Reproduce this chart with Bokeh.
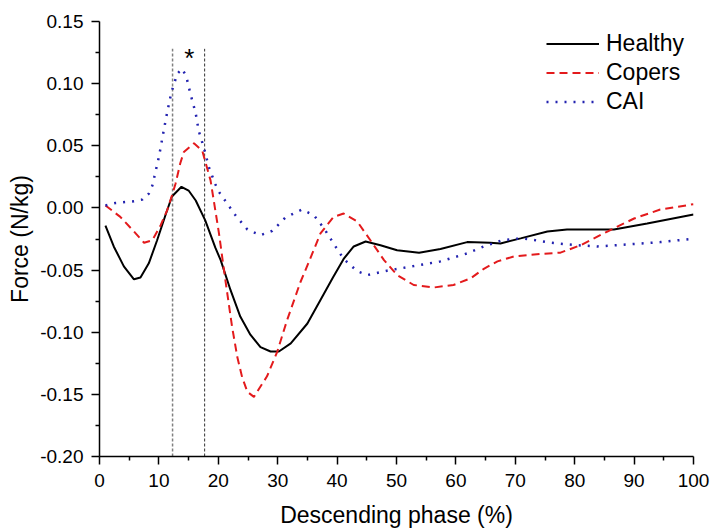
from bokeh.plotting import figure
from bokeh.models import Range1d, FixedTicker, Label
from bokeh.embed import file_html
from bokeh.resources import INLINE

# ---- data ----
healthy_x = [1.0, 2.4, 4.1, 5.8, 6.9, 8.3, 9.7, 11.1, 12.2, 13.8, 15.0, 16.2, 17.8, 19.5, 20.4, 22.05,
             23.7, 25.4, 27.1, 28.8, 30.2, 32.2, 35.0, 37.2, 39.3, 41.1, 42.8, 44.8, 47.3, 50.1, 53.8,
             57.4, 61.9, 65.8, 67.5, 70.9, 75.4, 78.7, 86.6, 92.2, 100.0]
healthy_y = [-0.0142, -0.031, -0.047, -0.0574, -0.056, -0.0446, -0.026, -0.0059, 0.0092, 0.017, 0.014,
             0.006, -0.010, -0.032, -0.042, -0.066, -0.0874, -0.102, -0.112, -0.1155, -0.1155, -0.109,
             -0.093, -0.074, -0.056, -0.041, -0.031, -0.027, -0.030, -0.034, -0.036, -0.033, -0.0275,
             -0.028, -0.0286, -0.0245, -0.019, -0.0174, -0.0174, -0.0125, -0.0053]

copers_x = [1.0, 3.5, 5.8, 7.5, 8.9, 10.3, 11.4, 12.2, 12.8, 13.6, 14.2, 15.9, 17.3, 18.7, 20.1, 21.1,
            22.3, 23.2, 24.0, 24.9, 26.0, 28.2, 29.9, 31.6, 33.8, 35.2, 37.2, 39.4, 41.1, 43.4, 45.6,
            47.9, 50.1, 52.9, 56.3, 59.6, 62.5, 64.7, 67.0, 69.8, 74.2, 77.6, 81.0, 85.5, 90.0, 94.4,
            100.0]
copers_y = [0.002, -0.0072, -0.019, -0.028, -0.026, -0.0139, -0.0018, 0.010, 0.0195, 0.036, 0.045, 0.052,
            0.046, 0.022, -0.020, -0.055, -0.095, -0.120, -0.136, -0.148, -0.152, -0.1355, -0.116,
            -0.090, -0.060, -0.044, -0.0205, -0.0072, -0.0045, -0.011, -0.026, -0.042, -0.054, -0.062,
            -0.064, -0.062, -0.0566, -0.049, -0.043, -0.039, -0.037, -0.036, -0.030, -0.019, -0.0085,
            -0.0013, 0.003]

cai_x = [1.0, 2.7, 4.4, 5.8, 7.2, 8.3, 8.9, 10.0, 10.8, 11.4, 12.1, 13.1, 13.9, 14.6, 15.3, 16.2, 16.7,
         17.6, 18.4, 19.5, 20.1, 22.9, 24.9, 27.1, 29.1, 31.3, 34.1, 36.1, 37.8, 39.4, 41.1, 43.4, 45.1,
         48.4, 52.9, 57.4, 61.9, 64.7, 67.8, 70.9, 72.6, 75.9, 80.4, 83.8, 90.0, 94.4, 99.5]
cai_y = [0.002, 0.004, 0.0048, 0.0054, 0.0067, 0.0115, 0.018, 0.041, 0.062, 0.077, 0.093, 0.108, 0.112,
         0.106, 0.092, 0.076, 0.062, 0.048, 0.033, 0.019, 0.013, -0.006, -0.0174, -0.022, -0.0184,
         -0.0077, -0.0013, -0.0059, -0.0165, -0.0286, -0.041, -0.051, -0.054, -0.0505, -0.0468, -0.043,
         -0.0366, -0.031, -0.026, -0.0245, -0.0254, -0.028, -0.030, -0.031, -0.029, -0.0275, -0.025]

# significance window (vertical dashed lines) and marker
window_x = [12.3, 17.7]
window_bottom = -0.20
window_top = 0.128
star_x = 15.1
star_y = 0.121
star_text = "*"

x_ticks = [0, 10, 20, 30, 40, 50, 60, 70, 80, 90, 100]
y_ticks = [-0.20, -0.15, -0.10, -0.05, 0.00, 0.05, 0.10, 0.15]

FONT = "Liberation Sans"

p = figure(width=710, height=530, x_range=Range1d(0, 100), y_range=Range1d(-0.2, 0.15),
           output_backend="svg", toolbar_location=None,
           min_border_left=99, min_border_right=17, min_border_top=21, min_border_bottom=73)
p.outline_line_color = None
p.xgrid.visible = False
p.ygrid.visible = False
p.background_fill_color = "white"

# vertical lines
p.segment(x0=[window_x[0]], y0=[window_bottom], x1=[window_x[0]], y1=[window_top],
          line_color="#808080", line_width=1.5, line_dash="3 2")
p.segment(x0=[window_x[1]], y0=[window_bottom], x1=[window_x[1]], y1=[window_top],
          line_color="#333333", line_width=1, line_dash="3 2")
p.add_layout(Label(x=star_x, y=star_y, text=star_text, text_align="center", text_baseline="alphabetic",
                   text_font=FONT, text_font_size="26px", text_color="black"))

p.line(healthy_x, healthy_y, line_color="black", line_width=2, legend_label="Healthy")
p.line(copers_x, copers_y, line_color="#e31a1c", line_width=2, line_dash="8 5", legend_label="Copers")
p.line(cai_x, cai_y, line_color="#2222b0", line_width=2.5, line_dash="2 7", legend_label="CAI")

for ax in (p.xaxis[0], p.yaxis[0]):
    ax.axis_line_width = 1.5
    ax.axis_line_color = "black"
    ax.major_tick_line_color = "black"
    ax.minor_tick_line_color = "black"
    ax.major_tick_line_width = 1.5
    ax.minor_tick_line_width = 1.5
    ax.major_tick_in = 0
    ax.major_tick_out = 8
    ax.minor_tick_in = 0
    ax.minor_tick_out = 4
    ax.major_label_text_font = FONT
    ax.major_label_text_font_size = "19px"
    ax.major_label_text_color = "black"
    ax.axis_label_text_font = FONT
    ax.axis_label_text_font_size = "23px"
    ax.axis_label_text_font_style = "normal"
    ax.axis_label_text_color = "black"

p.xaxis.ticker = FixedTicker(ticks=x_ticks, minor_ticks=[v + 5 for v in x_ticks[:-1]])
p.yaxis.ticker = FixedTicker(ticks=y_ticks, minor_ticks=[round(v + 0.025, 3) for v in y_ticks[:-1]])
p.yaxis.major_label_overrides = {v: f"{v:.2f}" for v in y_ticks}
p.xaxis.axis_label = "Descending phase (%)"
p.yaxis.axis_label = "Force (N/kg)"
p.xaxis.major_label_standoff = 9
p.xaxis.axis_label_standoff = 12
p.yaxis.major_label_standoff = 8
p.yaxis.axis_label_standoff = 4

lg = p.legend[0]
lg.location = (447, 340)
lg.padding = 0
lg.margin = 0
lg.spacing = 0
lg.border_line_color = None
lg.background_fill_alpha = 0
lg.glyph_width = 53
lg.glyph_height = 29
lg.label_height = 29
lg.label_standoff = 7
lg.label_text_font = FONT
lg.label_text_font_size = "23px"
lg.label_text_color = "black"

open("out.html", "w").write(file_html(p, INLINE))
